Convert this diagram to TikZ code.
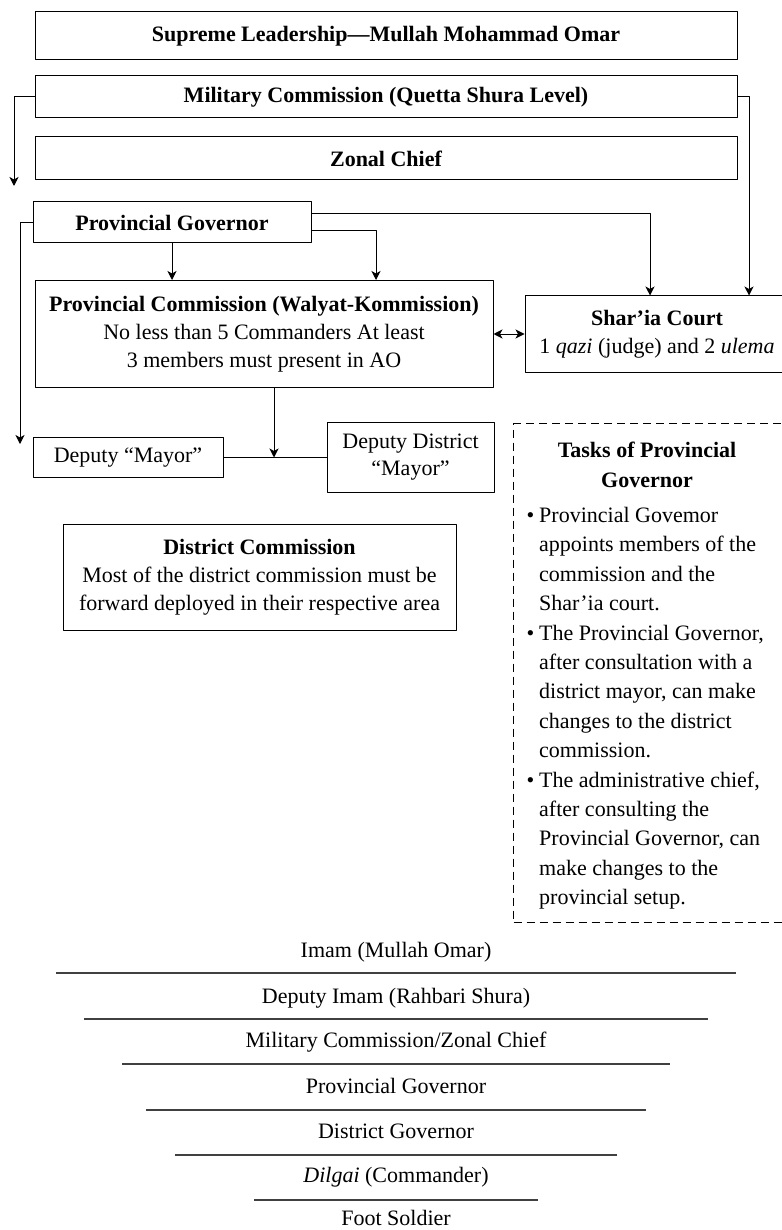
\documentclass[tikz,border=0pt]{standalone}
\usepackage{fontspec}
\setmainfont{Liberation Serif}
\usetikzlibrary{arrows.meta}
\newcommand{\chartfont}{\fontsize{22}{28}\selectfont}
\tikzset{
  box/.style={draw, line width=1pt, align=center, inner sep=2pt, font=\chartfont},
  boldbox/.style={box, font=\chartfont\bfseries},
  rank/.style={font=\chartfont, text height=15pt, text depth=5pt, inner sep=0pt},
  rankline/.style={line width=1.4pt, black!75},
}
\begin{document}
\begin{tikzpicture}[x=1pt, y=-1pt, line width=1pt, line join=round, >={Stealth[length=9pt,width=9pt,inset=2.5pt]}]
	\useasboundingbox (0,0) rectangle (781,1230);
	% upper chart
	\node[boldbox, minimum width=702pt, minimum height=48pt] (supreme) at (386,36) {Supreme Leadership—Mullah Mohammad Omar};
	\node[boldbox, minimum width=702pt, minimum height=42pt] (military) at (386,97) {Military Commission (Quetta Shura Level)};
	\node[boldbox, minimum width=702pt, minimum height=43pt] (zonal) at (386,158.5) {Zonal Chief};
	\node[boldbox, minimum width=278pt, minimum height=41pt] (pg) at (172,222.5) {Provincial Governor};
	\node[box, minimum width=458pt, minimum height=107pt] (provcomm) at (264,334) {\textbf{Provincial Commission (Walyat-Kommission)}\\No less than 5 Commanders At least\\3 members must present in AO};
	\node[box, minimum width=264pt, minimum height=76pt] (sharia) at (657,334) {\textbf{Shar’ia Court}\\1 \textit{qazi} (judge) and 2 \textit{ulema}};
	\node[box, minimum width=190pt, minimum height=40pt] (dm) at (128,457.5) {Deputy “Mayor”};
	\node[box, minimum width=167pt, minimum height=70pt, font=\fontsize{22}{27}\selectfont] (ddm) at (410.5,457.5) {Deputy District\\“Mayor”};
	\node[box, minimum width=393pt, minimum height=106pt] (dc) at (259.5,577) {\textbf{District Commission}\\Most of the district commission must be\\forward deployed in their respective area};
	% tasks box
	\node[draw, dashed, dash pattern=on 8pt off 5pt, minimum width=287pt, minimum height=499pt, anchor=north west] (tasksbox) at (513,423) {};
	\node[anchor=north, inner sep=0pt, align=center, font=\fontsize{22}{29.8}\selectfont\bfseries] (taskttl) at (647,436) {%
		\begin{tabular}{@{}c@{}}Tasks of Provincial\\Governor\end{tabular}};
	\node[anchor=north west, inner sep=0pt, font=\fontsize{22}{29.4}\selectfont] (tasks) at (526,501.5) {%
		\begin{tabular}{@{}l@{\hspace{5pt}}l@{}}
		\textbullet & Provincial Govemor\\
		 & appoints members of the\\
		 & commission and the\\
		 & Shar’ia court.\\
		\textbullet & The Provincial Governor,\\
		 & after consultation with a\\
		 & district mayor, can make\\
		 & changes to the district\\
		 & commission.\\
		\textbullet & The administrative chief,\\
		 & after consulting the\\
		 & Provincial Governor, can\\
		 & make changes to the\\
		 & provincial setup.
		\end{tabular}};
	% connectors
	\coordinate (milend) at (14,186);
	\coordinate (pgend) at (20,444);
	\coordinate (xcourtA) at (650,0);
	\coordinate (xcourtB) at (749,0);
	\coordinate (xprov) at (376,0);
	\coordinate (split) at (274,457.5);
	\draw[->] (military.west) -| (milend);
	\draw[->] (military.east) -| (xcourtB |- sharia.north);
	\draw[->] (pg.west) -| (pgend);
	\draw[->] (pg.south) -- (pg.south |- provcomm.north);
	\draw[->] ([yshift=-8.5pt]pg.east) -| (xprov |- provcomm.north);
	\draw[->] ([yshift=8.5pt]pg.east) -| (xcourtA |- sharia.north);
	\draw[<->] (provcomm.east) -- (sharia.west);
	\draw (dm.east) -- (ddm.west);
	\draw[->] (provcomm.south -| split) -- (split);
	% ranks
	\node[rank] (rankA) at (396,952) {Imam (Mullah Omar)};
	\node[rank] (rankB) at (396,998) {Deputy Imam (Rahbari Shura)};
	\node[rank] (rankC) at (396,1042) {Military Commission/Zonal Chief};
	\node[rank] (rankD) at (396,1088) {Provincial Governor};
	\node[rank] (rankE) at (396,1133) {District Governor};
	\node[rank] (rankF) at (396,1177) {\textit{Dilgai} (Commander)};
	\node[rank] (rankG) at (396,1220) {Foot Soldier};
	\foreach \yy/\xl/\xr in {973/56/736, 1019/84/708, 1064/122/670, 1110/146/646, 1155/175/617, 1200/254/538}
		\draw[rankline] (\xl,\yy) -- (\xr,\yy);
\end{tikzpicture}
\end{document}
